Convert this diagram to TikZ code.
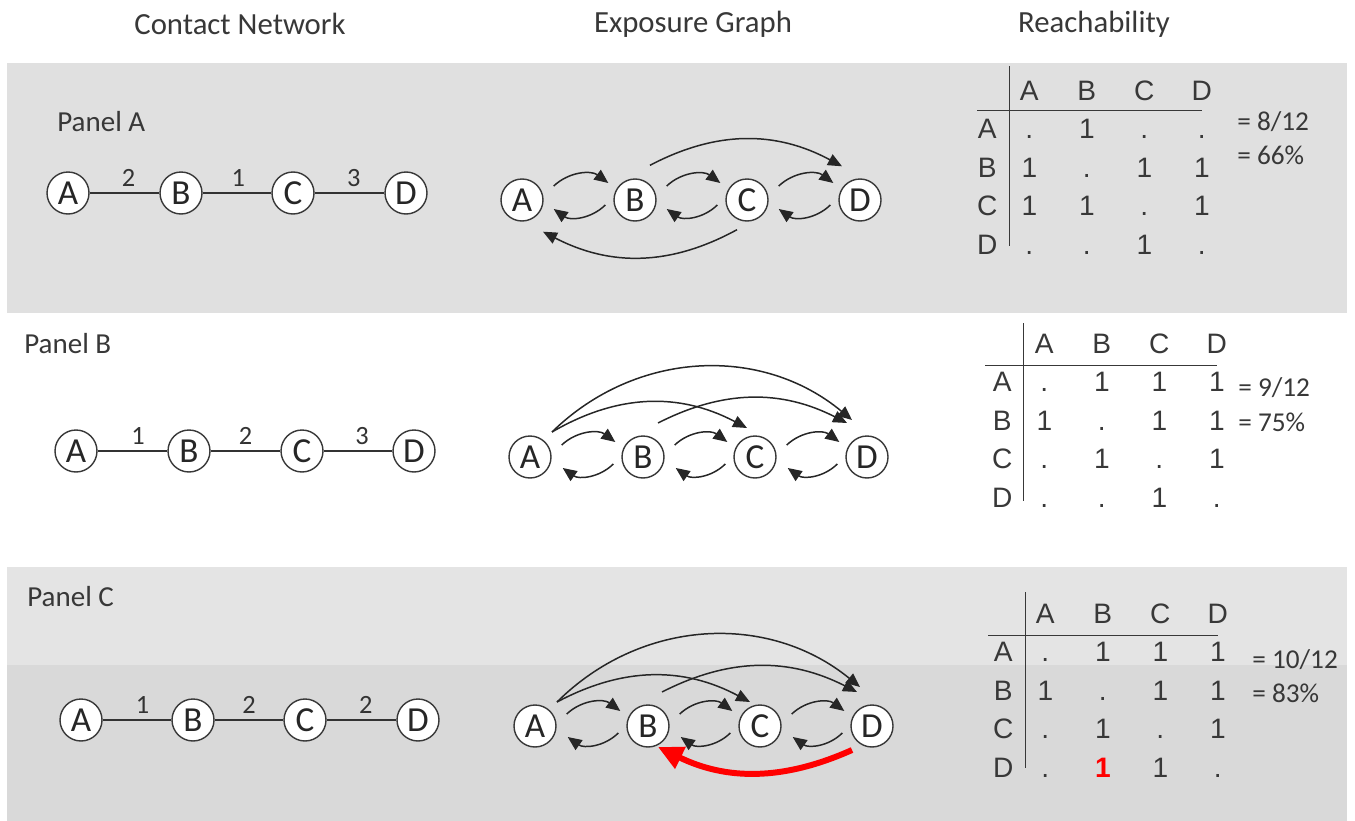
\documentclass[tikz,border=0pt]{standalone}
\usepackage{fontspec}
\setmainfont{Carlito}
\newfontfamily\tablefont{Liberation Sans}
\usetikzlibrary{arrows.meta, positioning, matrix}

\definecolor{panelgray}{HTML}{E0E0E0}
\definecolor{panellight}{HTML}{E4E4E4}
\definecolor{paneldark}{HTML}{D9D9D9}
\definecolor{inkgray}{HTML}{383838}

\begin{document}
\begin{tikzpicture}[
    x=0.02cm, y=-0.02cm,
    heading/.style={font=\fontsize{17.5}{20}\selectfont, text=inkgray},
    panel/.style={font=\fontsize{16.5}{19}\selectfont, text=inkgray, anchor=west, inner sep=0pt},
    vert/.style={circle, draw=inkgray, line width=0.8pt, fill=white, minimum size=0.84cm, inner sep=0pt, font=\fontsize{20}{22}\selectfont, text=black!85},
    link/.style={line width=0.8pt, draw=black!80},
    weight/.style={font=\fontsize{15}{17}\selectfont, text=black!80, above},
    hop/.style={-{Triangle[length=2.8mm, width=2.4mm]}, line width=0.85pt, draw=black!85, bend left=40},
    jump/.style={-{Triangle[length=2.8mm, width=2.4mm]}, line width=0.85pt, draw=black!85},
    newhop/.style={-{Triangle[length=5mm, width=4.6mm]}, line width=3.4pt, red, bend left=25},
    reach/.style={matrix of nodes, nodes in empty cells, anchor=north west, inner sep=0pt, column sep=0pt, row sep=0pt,
        nodes={minimum width=1.15cm, minimum height=0.77cm, inner sep=0pt, text height=12pt, text depth=3pt,
            font=\tablefont\fontsize{16}{18}\selectfont, text=inkgray},
        column 1/.style={nodes={minimum width=0.53cm}}},
    rule/.style={line width=0.9pt, draw=inkgray},
    ratio/.style={font=\fontsize{15.5}{18}\selectfont, text=inkgray, anchor=west, inner sep=0pt},
    hl/.style={text=red, font=\tablefont\bfseries\fontsize{16}{18}\selectfont}
]
\useasboundingbox (0,0) rectangle (1355,821);

% Panel backgrounds
\fill[panelgray] (7,63) rectangle (1347,313);
\fill[panellight] (7,567) rectangle (1347,821);
\fill[paneldark] (7,665) rectangle (1347,821);

% Column headings
\node[heading] (tnet) at (240,24) {Contact Network};
\node[heading] (texp) at (693,24) {Exposure Graph};
\node[heading] (treach) at (1094,24) {Reachability};

% ============ PANEL A ============
\node[panel] (pA) at (57,122) {Panel A};

% contact network
\foreach \n/\x in {A/68,B/181,C/293,D/406}
    \node[vert] (ca\n) at (\x,193) {\n};
\draw[link] (caA) -- node[weight, pos=.56] (wa1) {2} (caB);
\draw[link] (caB) -- node[weight, pos=.52] (wa2) {1} (caC);
\draw[link] (caC) -- node[weight, pos=.56] (wa3) {3} (caD);

% exposure graph
\foreach \n/\x in {A/522,B/635,C/747,D/860}
    \node[vert] (ea\n) at (\x,200) {\n};
\foreach \u/\v in {A/B,B/C,C/D} {
    \draw[hop] ([shift={(10,-14)}]ea\u.east) to ([shift={(-5,-17)}]ea\v.west);
    \draw[hop] ([shift={(-8,5)}]ea\v.west) to ([shift={(10,9)}]ea\u.east);
}
\draw[jump, bend left=28] ([shift={(15,-13)}]eaB.north) to ([shift={(-18,-12)}]eaD.north);
\draw[jump, bend left=28] ([shift={(-10,8)}]eaC.south) to ([shift={(21,10)}]eaA.south);

% reachability
\matrix[reach] (ra) at (973.75,72.75) {
      & A & B & C & D \\
    A & . & 1 & . & . \\
    B & 1 & . & 1 & 1 \\
    C & 1 & 1 & . & 1 \\
    D & . & . & 1 & . \\
};
\draw[rule] ([shift={(-20,-26)}]ra-1-2.center) -- ([shift={(-20,0)}]ra-5-2.center);
\draw[rule] ([shift={(-10,18)}]ra-1-1.center) -- ([shift={(0,18)}]ra-1-5.center);
\node[ratio] (qa1) at (1237,122) {= 8/12};
\node[ratio] (qa2) at (1237,155) {= 66\%};

% ============ PANEL B ============
\node[panel] (pB) at (24,344) {Panel B};

% contact network
\foreach \n/\x in {A/76,B/189,C/302,D/414}
    \node[vert] (cb\n) at (\x,451) {\n};
\draw[link] (cbA) -- node[weight, pos=.58] (wb1) {1} (cbB);
\draw[link] (cbB) -- node[weight, pos=.5] (wb2) {2} (cbC);
\draw[link] (cbC) -- node[weight, pos=.56] (wb3) {3} (cbD);

% exposure graph
\foreach \n/\x in {A/530,B/643,C/755,D/867}
    \node[vert] (eb\n) at (\x,457) {\n};
\foreach \u/\v in {A/B,B/C,C/D} {
    \draw[hop] ([shift={(10,-12)}]eb\u.east) to ([shift={(-6,-15)}]eb\v.west);
    \draw[hop] ([shift={(-8,7)}]eb\v.west) to ([shift={(11,11)}]eb\u.east);
}
\draw[jump, bend left=42] ([shift={(22,-25)}]ebA.center) to ([shift={(-15,-37)}]ebD.center);
\draw[jump, bend left=29] ([shift={(22,-25)}]ebA.center) to ([shift={(-8,-29)}]ebC.center);
\draw[jump, bend left=27] ([shift={(15,-34)}]ebB.center) to ([shift={(-20,-34)}]ebD.center);

% reachability
\matrix[reach] (rb) at (988.75,325.75) {
      & A & B & C & D \\
    A & . & 1 & 1 & 1 \\
    B & 1 & . & 1 & 1 \\
    C & . & 1 & . & 1 \\
    D & . & . & 1 & . \\
};
\draw[rule] ([shift={(-21,-22)}]rb-1-2.center) -- ([shift={(-21,2)}]rb-5-2.center);
\draw[rule] ([shift={(-17,20)}]rb-1-1.center) -- ([shift={(0,20)}]rb-1-5.center);
\node[ratio] (qb1) at (1238,388) {= 9/12};
\node[ratio] (qb2) at (1238,422) {= 75\%};

% ============ PANEL C ============
\node[panel] (pC) at (27,597) {Panel C};

% contact network
\foreach \n/\x in {A/81,B/193,C/305,D/418}
    \node[vert] (cc\n) at (\x,720) {\n};
\draw[link] (ccA) -- node[weight, pos=.58] (wc1) {1} (ccB);
\draw[link] (ccB) -- node[weight, pos=.5] (wc2) {2} (ccC);
\draw[link] (ccC) -- node[weight, pos=.56] (wc3) {2} (ccD);

% exposure graph
\foreach \n/\x in {A/535,B/648,C/760,D/872}
    \node[vert] (ec\n) at (\x,726) {\n};
\foreach \u/\v in {A/B,B/C,C/D} {
    \draw[hop] ([shift={(10,-12)}]ec\u.east) to ([shift={(-6,-15)}]ec\v.west);
    \draw[hop] ([shift={(-8,7)}]ec\v.west) to ([shift={(11,11)}]ec\u.east);
}
\draw[jump, bend left=42] ([shift={(22,-24)}]ecA.center) to ([shift={(-12,-39)}]ecD.center);
\draw[jump, bend left=28] ([shift={(22,-24)}]ecA.center) to ([shift={(-10,-24)}]ecC.center);
\draw[jump, bend left=27] ([shift={(14,-34)}]ecB.center) to ([shift={(-15,-34)}]ecD.center);
\draw[newhop] ([shift={(-20,24)}]ecD.center) to ([shift={(10,21)}]ecB.center);

% reachability
\matrix[reach] (rc) at (989.75,595.75) {
      & A & B & C & D \\
    A & . & 1 & 1 & 1 \\
    B & 1 & . & 1 & 1 \\
    C & . & 1 & . & 1 \\
    D & . & |[hl]| 1 & 1 & . \\
};
\draw[rule] ([shift={(-20,-23)}]rc-1-2.center) -- ([shift={(-20,-1)}]rc-5-2.center);
\draw[rule] ([shift={(-15,20)}]rc-1-1.center) -- ([shift={(0,20)}]rc-1-5.center);
\node[ratio] (qc1) at (1252,660) {= 10/12};
\node[ratio] (qc2) at (1252,693) {= 83\%};

\end{tikzpicture}
\end{document}
